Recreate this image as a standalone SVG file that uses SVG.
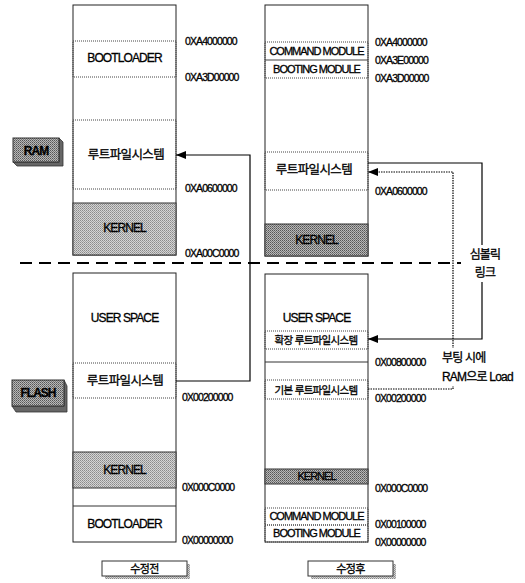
<svg xmlns="http://www.w3.org/2000/svg" width="525" height="583" viewBox="0 0 525 583">
<defs>
<marker id="ah" viewBox="0 0 10 8" refX="10" refY="4" markerWidth="10" markerHeight="8" markerUnits="userSpaceOnUse" orient="auto">
<path d="M0,0 L10,4 L0,8 Z" fill="#000"/>
</marker>
<pattern id="hatch" width="2" height="2" patternUnits="userSpaceOnUse">
<rect width="2" height="2" fill="#d4d4d4"/>
<rect width="1" height="1" fill="#8a8a8a"/>
<rect x="1" y="1" width="1" height="1" fill="#a0a0a0"/>
</pattern>
<pattern id="hatchD" width="2" height="2" patternUnits="userSpaceOnUse">
<rect width="2" height="2" fill="#b8b8b8"/>
<rect width="1" height="1" fill="#555"/>
<rect x="1" y="1" width="1" height="1" fill="#777"/>
</pattern>
</defs>
<style>
text{font-family:"Liberation Sans","Noto Sans CJK KR",sans-serif;fill:#000;stroke:#000;stroke-width:0.3px}
.col{fill:#fff;stroke:#222;stroke-width:1}
.seg{fill:none;stroke:#333;stroke-width:1}
.dot{fill:none;stroke:#444;stroke-width:1;stroke-dasharray:1 1}
.k1{fill:url(#hatch);stroke:#333;stroke-width:1}
.k2{fill:url(#hatchD);stroke:#333;stroke-width:1}
.lbl{font-size:12px;letter-spacing:-0.9px;text-anchor:middle;dominant-baseline:central}
.mod{font-size:11px;letter-spacing:-1px;text-anchor:middle;dominant-baseline:central}
.kr{font-size:12.5px;letter-spacing:-0.6px;text-anchor:middle;dominant-baseline:central}
.addr{font-size:10.5px;letter-spacing:-0.9px;dominant-baseline:central}
.note{font-size:12px;letter-spacing:-0.8px;dominant-baseline:central}
.conn{fill:none;stroke:#000;stroke-width:1.2}
.connd{fill:none;stroke:#000;stroke-width:1.2;stroke-dasharray:1.5 1}
</style>

<g id="ram-before">
<rect class="col" x="73" y="5" width="103" height="250"/>
<rect class="dot" x="73" y="41" width="103" height="36"/>
<text class="lbl" x="124.5" y="58">BOOTLOADER</text>
<rect class="dot" x="73" y="120" width="103" height="69"/>
<text class="kr" x="126" y="155">루트파일시스템</text>
<rect class="k1" x="73" y="203" width="103" height="52"/>
<text class="lbl" x="124.5" y="228">KERNEL</text>
<text class="addr" x="185" y="41">0XA4000000</text>
<text class="addr" x="185" y="77">0XA3D00000</text>
<text class="addr" x="185" y="188">0XA0600000</text>
<text class="addr" x="185" y="253">0XA00C0000</text>
</g>

<g id="flash-before">
<rect class="col" x="73" y="273" width="103" height="269"/>
<text class="lbl" x="124.5" y="318">USER SPACE</text>
<rect class="dot" x="73" y="363" width="103" height="35"/>
<text class="kr" x="125" y="381">루트파일시스템</text>
<rect class="k1" x="73" y="452" width="103" height="36"/>
<text class="lbl" x="124.5" y="470">KERNEL</text>
<line class="seg" x1="73" y1="506" x2="176" y2="506"/>
<text class="lbl" x="124.5" y="524">BOOTLOADER</text>
<text class="addr" x="182" y="397">0X00200000</text>
<text class="addr" x="182" y="487">0X000C0000</text>
<text class="addr" x="182" y="540">0X00000000</text>
</g>

<g id="ram-after">
<rect class="col" x="265" y="5" width="103" height="251"/>
<rect class="dot" x="265" y="42" width="103" height="18"/>
<text class="mod" x="316.5" y="51">COMMAND MODULE</text>
<rect class="dot" x="265" y="60" width="103" height="18"/>
<text class="mod" x="316.5" y="69">BOOTING MODULE</text>
<rect class="dot" x="265" y="152" width="103" height="38"/>
<text class="kr" x="314" y="170">루트파일시스템</text>
<rect class="k2" x="265" y="224" width="103" height="32"/>
<text class="lbl" x="316.5" y="240">KERNEL</text>
<text class="addr" x="375" y="42">0XA4000000</text>
<text class="addr" x="375" y="60">0XA3E00000</text>
<text class="addr" x="375" y="78">0XA3D00000</text>
<text class="addr" x="375" y="191">0XA0600000</text>
</g>

<g id="flash-after">
<rect class="col" x="265" y="274" width="103" height="268"/>
<text class="lbl" x="316.5" y="318">USER SPACE</text>
<rect class="dot" x="265" y="331" width="103" height="18"/>
<text class="kr" x="316" y="340" style="font-size:10.5px;letter-spacing:-0.7px">확장 루트파일시스템</text>
<line class="seg" x1="265" y1="362" x2="368" y2="362"/>
<rect class="dot" x="265" y="380" width="103" height="19"/>
<text class="kr" x="316" y="390" style="font-size:10.5px;letter-spacing:-0.7px">기본 루트파일시스템</text>
<rect class="k2" x="265" y="469" width="103" height="15"/>
<text class="mod" x="316.5" y="476">KERNEL</text>
<rect class="dot" x="265" y="508" width="103" height="17"/>
<text class="mod" x="316.5" y="516">COMMAND MODULE</text>
<rect class="dot" x="265" y="525" width="103" height="17"/>
<text class="mod" x="316.5" y="533">BOOTING MODULE</text>
<text class="addr" x="375" y="362">0X00800000</text>
<text class="addr" x="375" y="398">0X00200000</text>
<text class="addr" x="375" y="488">0X000C0000</text>
<text class="addr" x="375" y="524">0X00100000</text>
<text class="addr" x="375" y="542">0X00000000</text>
</g>

<g id="ram-tag">
<path d="M13,162 L17,166 L63,166 L63,142 L59,138 L59,162 Z" fill="#666" stroke="#333" stroke-width="0.8"/>
<rect x="13" y="138" width="46" height="24" fill="url(#hatchD)" stroke="#333" stroke-width="1"/>
<text x="36" y="150.5" style="font-size:12px;letter-spacing:-1px;text-anchor:middle;dominant-baseline:central;font-weight:bold">RAM</text>
</g>

<g id="flash-tag">
<path d="M12,406 L16,412 L67,412 L67,386 L64,380 L64,406 Z" fill="#666" stroke="#333" stroke-width="0.8"/>
<rect x="12" y="380" width="52" height="26" fill="url(#hatchD)" stroke="#333" stroke-width="1"/>
<text x="38" y="393" style="font-size:12px;letter-spacing:-1px;text-anchor:middle;dominant-baseline:central;font-weight:bold">FLASH</text>
</g>

<g id="before-tag">
<rect x="105" y="564" width="85" height="15" fill="url(#hatch)"/>
<rect x="102" y="561" width="85" height="15" fill="#fff" stroke="#333" stroke-width="1"/>
<text class="kr" x="144.5" y="568.5" style="font-size:11px">수정전</text>
</g>

<g id="after-tag">
<rect x="311" y="564" width="85" height="15" fill="url(#hatch)"/>
<rect x="308" y="561" width="85" height="15" fill="#fff" stroke="#333" stroke-width="1"/>
<text class="kr" x="350.5" y="568.5" style="font-size:11px">수정후</text>
</g>

<g id="connectors">
<line x1="20" y1="263" x2="461" y2="263" stroke="#000" stroke-width="2" stroke-dasharray="12 7"/>
<polyline class="conn" points="176,381 250,381 250,155 176,155" marker-end="url(#ah)"/>
<polyline class="conn" points="368,163 482,163 482,339 368,339" marker-end="url(#ah)"/>
<polyline class="connd" points="368,389 453,389 453,172 368,172" marker-end="url(#ah)"/>
</g>

<g id="symlink-label">
<rect x="466" y="245" width="38" height="37" fill="#fff"/>
<text class="note" x="485" y="255" text-anchor="middle">심볼릭</text>
<text class="note" x="485" y="273" text-anchor="middle">링크</text>
</g>

<g id="load-label">
<rect x="440" y="348" width="78" height="38" fill="#fff"/>
<text class="note" x="442" y="358">부팅 시에</text>
<text class="note" x="442" y="377">RAM으로 Load</text>
</g>
</svg>
